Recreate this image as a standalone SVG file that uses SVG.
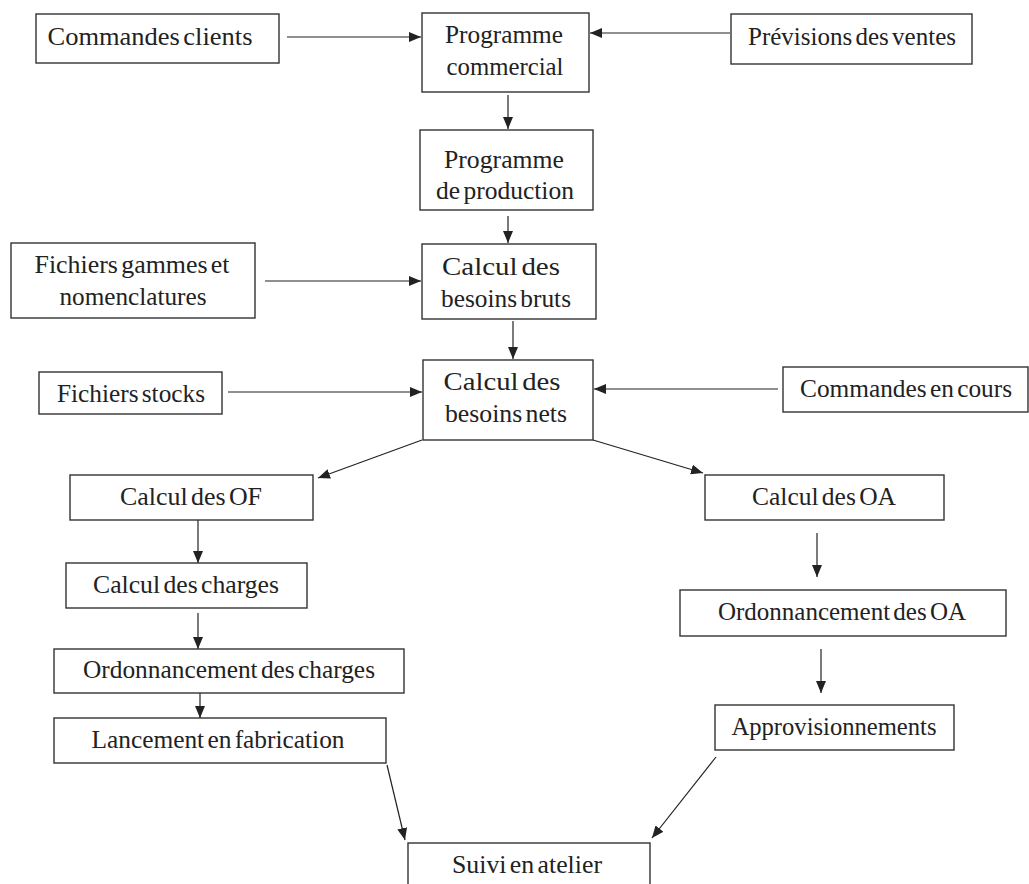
<svg xmlns="http://www.w3.org/2000/svg" width="1029" height="884" viewBox="0 0 1029 884">
<style>
.box{fill:#fff;stroke:#333;stroke-width:1.4}
.t{font-family:"Liberation Serif","Times New Roman",serif;font-size:25px;fill:#222;text-anchor:middle;word-spacing:-3px}
.c{fill:none;stroke:#222;stroke-width:1.2;marker-end:url(#ah)}
</style>
<defs>
<marker id="ah" markerUnits="userSpaceOnUse" markerWidth="12" markerHeight="10" refX="12" refY="5" orient="auto">
<path d="M0,0 L12,5 L0,10 z" fill="#222"/>
</marker>
</defs>
<rect width="1029" height="884" fill="#fff"/>
<g id="connectors">
<line class="c" x1="287" y1="37" x2="421" y2="37"/>
<line class="c" x1="730" y1="33" x2="590" y2="33"/>
<line class="c" x1="508" y1="95" x2="508" y2="129"/>
<line class="c" x1="508" y1="216" x2="508" y2="243"/>
<line class="c" x1="265" y1="281" x2="421" y2="281"/>
<line class="c" x1="513" y1="321" x2="513" y2="359"/>
<line class="c" x1="228" y1="392" x2="422" y2="392"/>
<line class="c" x1="778" y1="389" x2="594" y2="389"/>
<line class="c" x1="422" y1="440" x2="318" y2="478"/>
<line class="c" x1="593" y1="440" x2="703" y2="473"/>
<line class="c" x1="198" y1="520" x2="198" y2="563"/>
<line class="c" x1="198" y1="613" x2="198" y2="649"/>
<line class="c" x1="200" y1="692" x2="200" y2="718"/>
<line class="c" x1="387" y1="765" x2="405" y2="840"/>
<line class="c" x1="817" y1="533" x2="817" y2="577"/>
<line class="c" x1="821" y1="649" x2="821" y2="693"/>
<line class="c" x1="716" y1="757" x2="652" y2="838"/>
</g>
<g id="commandes-clients"><rect class="box" x="36" y="14" width="243" height="49"/><text class="t" x="150" y="45" textLength="205" lengthAdjust="spacingAndGlyphs">Commandes clients</text></g>
<g id="programme-commercial"><rect class="box" x="422" y="13" width="167" height="79"/><text class="t" x="504" y="43" textLength="118" lengthAdjust="spacingAndGlyphs">Programme</text><text class="t" x="505" y="75" textLength="117" lengthAdjust="spacingAndGlyphs">commercial</text></g>
<g id="previsions"><rect class="box" x="731" y="14" width="241" height="50"/><text class="t" x="852" y="45" textLength="208" lengthAdjust="spacingAndGlyphs">Prévisions des ventes</text></g>
<g id="programme-production"><rect class="box" x="420" y="130" width="173" height="80"/><text class="t" x="504" y="168" textLength="120" lengthAdjust="spacingAndGlyphs">Programme</text><text class="t" x="505" y="199" textLength="138" lengthAdjust="spacingAndGlyphs">de production</text></g>
<g id="fichiers-gammes"><rect class="box" x="11" y="243" width="244" height="75"/><text class="t" x="132" y="273" textLength="195" lengthAdjust="spacingAndGlyphs">Fichiers gammes et</text><text class="t" x="133" y="305" textLength="147" lengthAdjust="spacingAndGlyphs">nomenclatures</text></g>
<g id="besoins-bruts"><rect class="box" x="422" y="244" width="174" height="75"/><text class="t" x="501" y="275" textLength="118" lengthAdjust="spacingAndGlyphs">Calcul des</text><text class="t" x="506" y="307" textLength="130" lengthAdjust="spacingAndGlyphs">besoins bruts</text></g>
<g id="fichiers-stocks"><rect class="box" x="39" y="372" width="183" height="42"/><text class="t" x="131" y="402" textLength="148" lengthAdjust="spacingAndGlyphs">Fichiers stocks</text></g>
<g id="besoins-nets"><rect class="box" x="423" y="360" width="170" height="80"/><text class="t" x="502" y="390" textLength="117" lengthAdjust="spacingAndGlyphs">Calcul des</text><text class="t" x="506" y="422" textLength="122" lengthAdjust="spacingAndGlyphs">besoins nets</text></g>
<g id="commandes-en-cours"><rect class="box" x="783" y="367" width="245" height="45"/><text class="t" x="906" y="397" textLength="212" lengthAdjust="spacingAndGlyphs">Commandes en cours</text></g>
<g id="calcul-of"><rect class="box" x="70" y="475" width="243" height="45"/><text class="t" x="191" y="505" textLength="142" lengthAdjust="spacingAndGlyphs">Calcul des OF</text></g>
<g id="calcul-charges"><rect class="box" x="66" y="563" width="241" height="45"/><text class="t" x="186" y="593" textLength="186" lengthAdjust="spacingAndGlyphs">Calcul des charges</text></g>
<g id="ordo-charges"><rect class="box" x="54" y="649" width="350" height="44"/><text class="t" x="229" y="678" textLength="292" lengthAdjust="spacingAndGlyphs">Ordonnancement des charges</text></g>
<g id="lancement"><rect class="box" x="54" y="718" width="332" height="45"/><text class="t" x="218" y="748" textLength="253" lengthAdjust="spacingAndGlyphs">Lancement en fabrication</text></g>
<g id="calcul-oa"><rect class="box" x="705" y="475" width="239" height="45"/><text class="t" x="824" y="505" textLength="144" lengthAdjust="spacingAndGlyphs">Calcul des OA</text></g>
<g id="ordo-oa"><rect class="box" x="680" y="590" width="326" height="46"/><text class="t" x="842" y="620" textLength="248" lengthAdjust="spacingAndGlyphs">Ordonnancement des OA</text></g>
<g id="approvisionnements"><rect class="box" x="715" y="705" width="239" height="45"/><text class="t" x="834" y="735" textLength="205" lengthAdjust="spacingAndGlyphs">Approvisionnements</text></g>
<g id="suivi"><rect class="box" x="408" y="843" width="242" height="50"/><text class="t" x="527" y="873" textLength="150" lengthAdjust="spacingAndGlyphs">Suivi en atelier</text></g>
</svg>
